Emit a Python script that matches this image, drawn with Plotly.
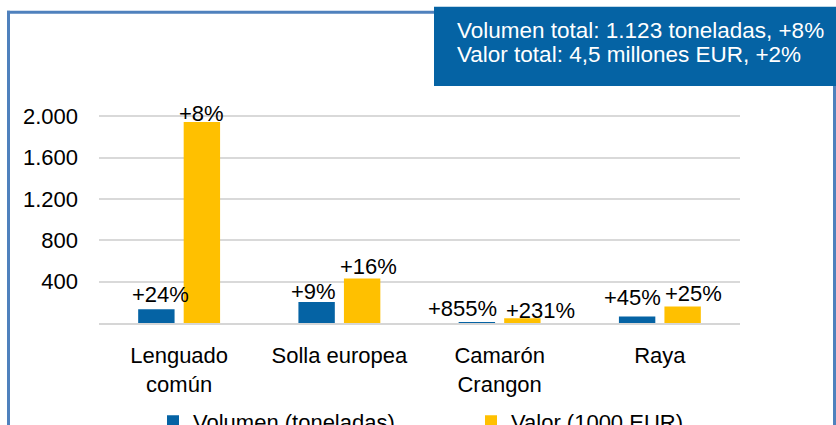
import plotly.graph_objects as go

categories = ["Lenguado<br>común", "Solla europea", "Camarón<br>Crangon", "Raya"]
volumen = [133, 203, 5, 62]
valor = [1945, 430, 45, 159]
volumen_pct = ["+24%", "+9%", "+855%", "+45%"]
valor_pct = ["+8%", "+16%", "+231%", "+25%"]
y_ticks = [400, 800, 1200, 1600, 2000]
series_names = ["Volumen (toneladas)", "Valor (1000 EUR)"]
summary_lines = ["Volumen total: 1.123 toneladas, +8%", "Valor total: 4,5 millones EUR, +2%"]

# styling / label nudges (pixels)
BLUE = "#0563A4"
YELLOW = "#FFC000"
FRAME = "#4F81BD"
FONT = "Liberation Sans, Arial, sans-serif"
FS = 22
vol_dx = [4, -3.5, -14, -5]
vol_gap = [6, 2.5, 5, 11]
val_dx = [-0.5, 6.5, 18.5, 10.5]
val_gap = [0, 4, -1, 5]

W, H = 836, 425
L, R = 99, 740
T, B = 106, 322.7
pw, ph = R - L, B - T

def px(xp):
    return (xp - L) / pw

def py(yp):
    return (B - yp) / ph

fig = go.Figure()
fig.add_trace(go.Bar(x=categories, y=volumen, name=series_names[0],
                     marker=dict(color=BLUE, line=dict(width=0))))
fig.add_trace(go.Bar(x=categories, y=valor, name=series_names[1],
                     marker=dict(color=YELLOW, line=dict(width=0))))

slot = 22.75
desc = 6
annotations = []
for i, c in enumerate(categories):
    annotations.append(dict(x=c, y=volumen[i], xref="x", yref="y", text=volumen_pct[i],
                            showarrow=False, xanchor="center", yanchor="bottom",
                            xshift=-slot + vol_dx[i], yshift=vol_gap[i] - desc,
                            font=dict(family=FONT, size=FS, color="#000")))
    annotations.append(dict(x=c, y=valor[i], xref="x", yref="y", text=valor_pct[i],
                            showarrow=False, xanchor="center", yanchor="bottom",
                            xshift=slot + val_dx[i], yshift=val_gap[i] - desc,
                            font=dict(family=FONT, size=FS, color="#000")))

for line, yc in zip(summary_lines, [31, 54.5]):
    annotations.append(dict(x=px(455), y=py(yc), xref="paper", yref="paper",
                            text=line, showarrow=False,
                            xanchor="left", yanchor="middle", align="left",
                            font=dict(family=FONT, size=FS + 0.5, color="#FFFFFF")))

shapes = [
    dict(type="rect", xref="paper", yref="paper", x0=px(434), x1=px(845), y0=py(86), y1=py(7),
         fillcolor=BLUE, line=dict(width=0), layer="above"),
    dict(type="line", xref="paper", yref="paper", x0=px(8.5), x1=px(8.5), y0=py(11), y1=py(440),
         line=dict(color=FRAME, width=3)),
    dict(type="line", xref="paper", yref="paper", x0=px(7), x1=px(434), y0=py(12.5), y1=py(12.5),
         line=dict(color=FRAME, width=3)),
    dict(type="line", xref="paper", yref="paper", x0=px(834.5), x1=px(834.5), y0=py(86), y1=py(440),
         line=dict(color=FRAME, width=3)),
]

fig.update_layout(
    width=W, height=H,
    margin=dict(l=L, r=W - R, t=T, b=H - B, autoexpand=False),
    paper_bgcolor="white", plot_bgcolor="white",
    barmode="group", bargap=0.432, bargroupgap=0.2,
    separators=",.",
    font=dict(family=FONT, size=FS, color="#000"),
    showlegend=True,
    legend=dict(orientation="h", x=px(153), y=py(421), xanchor="left", yanchor="middle",
                entrywidth=273, entrywidthmode="pixels",
                font=dict(family=FONT, size=FS, color="#000"), bgcolor="rgba(0,0,0,0)"),
    annotations=annotations,
    shapes=shapes,
)
fig.update_xaxes(showgrid=False, showline=True, linecolor="rgba(200,200,200,0.75)", linewidth=2,
                 layer="above traces", ticks="", tickfont=dict(family=FONT, size=FS, color="#000"),
                 ticklabelstandoff=12)
fig.update_yaxes(range=[0, 2100], tickvals=y_ticks, tickformat=",d", showgrid=True,
                 gridcolor="#D9D9D9", gridwidth=2, zeroline=False, showline=False, ticks="",
                 tickfont=dict(family=FONT, size=FS, color="#000"), ticklabelstandoff=20)

fig.write_html("out.html", config={"displayModeBar": False},
               post_script="document.body.style.margin='0';document.body.style.overflow='hidden';")
